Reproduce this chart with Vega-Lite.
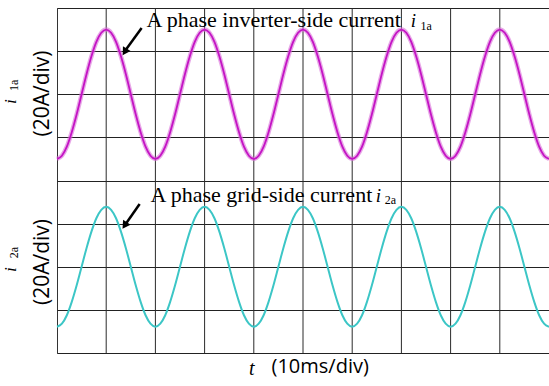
{
  "$schema": "https://vega.github.io/schema/vega-lite/v6.json",
  "width": 492,
  "height": 345,
  "autosize": {"type": "none"},
  "padding": {"left": 57, "top": 8, "right": 0, "bottom": 33},
  "background": "white",
  "config": {"view": {"stroke": "#333", "strokeWidth": 1}, "axis": {"gridColor": "#222", "gridOpacity": 1, "gridWidth": 1}},
  "datasets": {
    "w": [
      {"t":0,"a":-30,"b":-27.8},{"t":1,"a":-28.5,"b":-26.4},{"t":2,"a":-24.3,"b":-22.5},{"t":3,"a":-17.6,"b":-16.3},{"t":4,"a":-9.3,"b":-8.6},
      {"t":5,"a":0,"b":0},{"t":6,"a":9.3,"b":8.6},{"t":7,"a":17.6,"b":16.3},{"t":8,"a":24.3,"b":22.5},{"t":9,"a":28.5,"b":26.4},
      {"t":10,"a":30,"b":27.8},{"t":11,"a":28.5,"b":26.4},{"t":12,"a":24.3,"b":22.5},{"t":13,"a":17.6,"b":16.3},{"t":14,"a":9.3,"b":8.6},
      {"t":15,"a":0,"b":0},{"t":16,"a":-9.3,"b":-8.6},{"t":17,"a":-17.6,"b":-16.3},{"t":18,"a":-24.3,"b":-22.5},{"t":19,"a":-28.5,"b":-26.4},
      {"t":20,"a":-30,"b":-27.8},{"t":21,"a":-28.5,"b":-26.4},{"t":22,"a":-24.3,"b":-22.5},{"t":23,"a":-17.6,"b":-16.3},{"t":24,"a":-9.3,"b":-8.6},
      {"t":25,"a":0,"b":0},{"t":26,"a":9.3,"b":8.6},{"t":27,"a":17.6,"b":16.3},{"t":28,"a":24.3,"b":22.5},{"t":29,"a":28.5,"b":26.4},
      {"t":30,"a":30,"b":27.8},{"t":31,"a":28.5,"b":26.4},{"t":32,"a":24.3,"b":22.5},{"t":33,"a":17.6,"b":16.3},{"t":34,"a":9.3,"b":8.6},
      {"t":35,"a":0,"b":0},{"t":36,"a":-9.3,"b":-8.6},{"t":37,"a":-17.6,"b":-16.3},{"t":38,"a":-24.3,"b":-22.5},{"t":39,"a":-28.5,"b":-26.4},
      {"t":40,"a":-30,"b":-27.8},{"t":41,"a":-28.5,"b":-26.4},{"t":42,"a":-24.3,"b":-22.5},{"t":43,"a":-17.6,"b":-16.3},{"t":44,"a":-9.3,"b":-8.6},
      {"t":45,"a":0,"b":0},{"t":46,"a":9.3,"b":8.6},{"t":47,"a":17.6,"b":16.3},{"t":48,"a":24.3,"b":22.5},{"t":49,"a":28.5,"b":26.4},
      {"t":50,"a":30,"b":27.8},{"t":51,"a":28.5,"b":26.4},{"t":52,"a":24.3,"b":22.5},{"t":53,"a":17.6,"b":16.3},{"t":54,"a":9.3,"b":8.6},
      {"t":55,"a":0,"b":0},{"t":56,"a":-9.3,"b":-8.6},{"t":57,"a":-17.6,"b":-16.3},{"t":58,"a":-24.3,"b":-22.5},{"t":59,"a":-28.5,"b":-26.4},
      {"t":60,"a":-30,"b":-27.8},{"t":61,"a":-28.5,"b":-26.4},{"t":62,"a":-24.3,"b":-22.5},{"t":63,"a":-17.6,"b":-16.3},{"t":64,"a":-9.3,"b":-8.6},
      {"t":65,"a":0,"b":0},{"t":66,"a":9.3,"b":8.6},{"t":67,"a":17.6,"b":16.3},{"t":68,"a":24.3,"b":22.5},{"t":69,"a":28.5,"b":26.4},
      {"t":70,"a":30,"b":27.8},{"t":71,"a":28.5,"b":26.4},{"t":72,"a":24.3,"b":22.5},{"t":73,"a":17.6,"b":16.3},{"t":74,"a":9.3,"b":8.6},
      {"t":75,"a":0,"b":0},{"t":76,"a":-9.3,"b":-8.6},{"t":77,"a":-17.6,"b":-16.3},{"t":78,"a":-24.3,"b":-22.5},{"t":79,"a":-28.5,"b":-26.4},
      {"t":80,"a":-30,"b":-27.8},{"t":81,"a":-28.5,"b":-26.4},{"t":82,"a":-24.3,"b":-22.5},{"t":83,"a":-17.6,"b":-16.3},{"t":84,"a":-9.3,"b":-8.6},
      {"t":85,"a":0,"b":0},{"t":86,"a":9.3,"b":8.6},{"t":87,"a":17.6,"b":16.3},{"t":88,"a":24.3,"b":22.5},{"t":89,"a":28.5,"b":26.4},
      {"t":90,"a":30,"b":27.8},{"t":91,"a":28.5,"b":26.4},{"t":92,"a":24.3,"b":22.5},{"t":93,"a":17.6,"b":16.3},{"t":94,"a":9.3,"b":8.6},
      {"t":95,"a":0,"b":0},{"t":96,"a":-9.3,"b":-8.6},{"t":97,"a":-17.6,"b":-16.3},{"t":98,"a":-24.3,"b":-22.5},{"t":99,"a":-28.5,"b":-26.4},
      {"t":100,"a":-30,"b":-27.8}
    ]
  },
  "layer": [
    {
      "data": {"values": [{"g":10},{"g":20},{"g":30},{"g":40},{"g":50},{"g":60},{"g":70},{"g":80},{"g":90}]},
      "mark": {"type": "rule", "color": "#2a2a2a", "strokeWidth": 1},
      "encoding": {
        "x": {"field": "g", "type": "quantitative", "scale": {"domain": [0, 99.4]}, "axis": null}
      }
    },
    {
      "data": {"name": "w"},
      "mark": {"type": "line", "color": "#d870d8", "strokeWidth": 4.5, "opacity": 0.6, "interpolate": "monotone"},
      "encoding": {
        "x": {"field": "t", "type": "quantitative", "scale": {"domain": [0, 99.4]}, "axis": null},
        "y": {"field": "a", "type": "quantitative", "scale": {"domain": [-120, 40]},
              "axis": {"values": [-120,-100,-80,-60,-40,-20,0,20,40], "labels": false, "ticks": false, "domain": false, "grid": true, "gridColor": "#222", "gridOpacity": 1, "title": null}}
      }
    },
    {
      "data": {"name": "w"},
      "mark": {"type": "line", "color": "#c414c4", "strokeWidth": 1.8, "interpolate": "monotone"},
      "encoding": {
        "x": {"field": "t", "type": "quantitative", "axis": null},
        "y": {"field": "a", "type": "quantitative", "scale": {"domain": [-120, 40]}, "axis": null}
      }
    },
    {
      "data": {"name": "w"},
      "mark": {"type": "line", "color": "#3cc6c6", "strokeWidth": 2, "interpolate": "monotone"},
      "encoding": {
        "x": {"field": "t", "type": "quantitative", "axis": null},
        "y": {"field": "b", "type": "quantitative", "axis": null, "scale": {"domain": [-40, 120]}}
      }
    },
    {
      "data": {"values": [{"t": 18.2, "v": 31.2, "s": "A phase inverter-side current"}]},
      "mark": {"type": "text", "font": "Liberation Serif", "fontSize": 22, "align": "left", "baseline": "alphabetic", "color": "black"},
      "encoding": {
        "x": {"field": "t", "type": "quantitative", "axis": null},
        "y": {"field": "v", "type": "quantitative", "axis": null, "scale": {"domain": [-120, 40]}},
        "text": {"field": "s"}
      }
    },
    {
      "data": {"values": [{"t": 19.0, "v": 30.0, "s": "A phase grid-side current"}]},
      "mark": {"type": "text", "font": "Liberation Serif", "fontSize": 22, "align": "left", "baseline": "alphabetic", "color": "black"},
      "encoding": {
        "x": {"field": "t", "type": "quantitative", "axis": null},
        "y": {"field": "v", "type": "quantitative", "axis": null, "scale": {"domain": [-40, 120]}},
        "text": {"field": "s"}
      }
    },
    {
      "data": {"values": [{"t": 71.9, "v": 31.2, "s": "i"}]},
      "mark": {"type": "text", "font": "Liberation Serif", "fontSize": 19, "fontStyle": "italic", "align": "left", "baseline": "alphabetic", "color": "black"},
      "encoding": {
        "x": {"field": "t", "type": "quantitative", "axis": null},
        "y": {"field": "v", "type": "quantitative", "axis": null, "scale": {"domain": [-120, 40]}},
        "text": {"field": "s"}
      }
    },
    {
      "data": {"values": [{"t": 64.8, "v": 30.0, "s": "i"}]},
      "mark": {"type": "text", "font": "Liberation Serif", "fontSize": 19, "fontStyle": "italic", "align": "left", "baseline": "alphabetic", "color": "black"},
      "encoding": {
        "x": {"field": "t", "type": "quantitative", "axis": null},
        "y": {"field": "v", "type": "quantitative", "axis": null, "scale": {"domain": [-40, 120]}},
        "text": {"field": "s"}
      }
    },
    {
      "data": {"values": [{"t": 73.9, "v": 30.0, "s": "1a"}]},
      "mark": {"type": "text", "font": "Liberation Serif", "fontSize": 12, "align": "left", "baseline": "alphabetic", "color": "black"},
      "encoding": {
        "x": {"field": "t", "type": "quantitative", "axis": null},
        "y": {"field": "v", "type": "quantitative", "axis": null, "scale": {"domain": [-120, 40]}},
        "text": {"field": "s"}
      }
    },
    {
      "data": {"values": [{"t": 66.6, "v": 29.0, "s": "2a"}]},
      "mark": {"type": "text", "font": "Liberation Serif", "fontSize": 12, "align": "left", "baseline": "alphabetic", "color": "black"},
      "encoding": {
        "x": {"field": "t", "type": "quantitative", "axis": null},
        "y": {"field": "v", "type": "quantitative", "axis": null, "scale": {"domain": [-40, 120]}},
        "text": {"field": "s"}
      }
    },
    {
      "data": {"values": [{"t": 17.2, "v": 30.7, "t2": 14.1, "v2": 21.0}]},
      "mark": {"type": "rule", "color": "black", "strokeWidth": 2.5},
      "encoding": {
        "x": {"field": "t", "type": "quantitative", "axis": null},
        "y": {"field": "v", "type": "quantitative", "axis": null, "scale": {"domain": [-120, 40]}},
        "x2": {"field": "t2"},
        "y2": {"field": "v2"}
      }
    },
    {
      "data": {"values": [{"t": 16.8, "v": 29.1, "t2": 14.1, "v2": 20.3}]},
      "mark": {"type": "rule", "color": "black", "strokeWidth": 2.5},
      "encoding": {
        "x": {"field": "t", "type": "quantitative", "axis": null},
        "y": {"field": "v", "type": "quantitative", "axis": null, "scale": {"domain": [-40, 120]}},
        "x2": {"field": "t2"},
        "y2": {"field": "v2"}
      }
    },
    {
      "data": {"values": [{"t": 13.9, "v": 20.1}]},
      "mark": {"type": "point", "shape": "triangle", "filled": true, "color": "black", "opacity": 1, "size": 80, "angle": 212},
      "encoding": {
        "x": {"field": "t", "type": "quantitative", "axis": null},
        "y": {"field": "v", "type": "quantitative", "axis": null, "scale": {"domain": [-120, 40]}}
      }
    },
    {
      "data": {"values": [{"t": 13.9, "v": 19.6}]},
      "mark": {"type": "point", "shape": "triangle", "filled": true, "color": "black", "opacity": 1, "size": 80, "angle": 214},
      "encoding": {
        "x": {"field": "t", "type": "quantitative", "axis": null},
        "y": {"field": "v", "type": "quantitative", "axis": null, "scale": {"domain": [-40, 120]}}
      }
    },
    {
      "data": {"values": [{"t": -8.3, "v": -4.5, "s": "i"}]},
      "mark": {"type": "text", "font": "Liberation Serif", "fontSize": 17, "fontStyle": "italic", "align": "left", "baseline": "alphabetic", "angle": 270, "color": "black"},
      "encoding": {
        "x": {"field": "t", "type": "quantitative", "axis": null},
        "y": {"field": "v", "type": "quantitative", "axis": null, "scale": {"domain": [-120, 40]}},
        "text": {"field": "s"}
      }
    },
    {
      "data": {"values": [{"t": -8.0, "v": 1.5, "s": "1a"}]},
      "mark": {"type": "text", "font": "Liberation Serif", "fontSize": 12, "align": "left", "baseline": "alphabetic", "angle": 270, "color": "black"},
      "encoding": {
        "x": {"field": "t", "type": "quantitative", "axis": null},
        "y": {"field": "v", "type": "quantitative", "axis": null, "scale": {"domain": [-120, 40]}},
        "text": {"field": "s"}
      }
    },
    {
      "data": {"values": [{"t": -8.3, "v": -2.4, "s": "i"}]},
      "mark": {"type": "text", "font": "Liberation Serif", "fontSize": 17, "fontStyle": "italic", "align": "left", "baseline": "alphabetic", "angle": 270, "color": "black"},
      "encoding": {
        "x": {"field": "t", "type": "quantitative", "axis": null},
        "y": {"field": "v", "type": "quantitative", "axis": null, "scale": {"domain": [-40, 120]}},
        "text": {"field": "s"}
      }
    },
    {
      "data": {"values": [{"t": -8.0, "v": 4.0, "s": "2a"}]},
      "mark": {"type": "text", "font": "Liberation Serif", "fontSize": 12, "align": "left", "baseline": "alphabetic", "angle": 270, "color": "black"},
      "encoding": {
        "x": {"field": "t", "type": "quantitative", "axis": null},
        "y": {"field": "v", "type": "quantitative", "axis": null, "scale": {"domain": [-40, 120]}},
        "text": {"field": "s"}
      }
    },
    {
      "data": {"values": [{"t": -2.9, "v": 0.35, "s": "(20A/div)"}]},
      "mark": {"type": "text", "font": "Open Sans", "fontSize": 21, "align": "center", "baseline": "middle", "angle": 270, "color": "black"},
      "encoding": {
        "x": {"field": "t", "type": "quantitative", "axis": null},
        "y": {"field": "v", "type": "quantitative", "axis": null, "scale": {"domain": [-120, 40]}},
        "text": {"field": "s"}
      }
    },
    {
      "data": {"values": [{"t": -2.9, "v": 2.2, "s": "(20A/div)"}]},
      "mark": {"type": "text", "font": "Open Sans", "fontSize": 21, "align": "center", "baseline": "middle", "angle": 270, "color": "black"},
      "encoding": {
        "x": {"field": "t", "type": "quantitative", "axis": null},
        "y": {"field": "v", "type": "quantitative", "axis": null, "scale": {"domain": [-40, 120]}},
        "text": {"field": "s"}
      }
    },
    {
      "data": {"values": [{"t": 39.0, "v": -130.2, "s": "t"}]},
      "mark": {"type": "text", "font": "Liberation Serif", "fontSize": 20, "fontStyle": "italic", "align": "left", "baseline": "alphabetic", "color": "black"},
      "encoding": {
        "x": {"field": "t", "type": "quantitative", "axis": null},
        "y": {"field": "v", "type": "quantitative", "axis": null, "scale": {"domain": [-120, 40]}},
        "text": {"field": "s"}
      }
    },
    {
      "data": {"values": [{"t": 43.6, "v": -129.3, "s": "(10ms/div)"}]},
      "mark": {"type": "text", "font": "Open Sans", "fontSize": 20, "align": "left", "baseline": "alphabetic", "color": "black"},
      "encoding": {
        "x": {"field": "t", "type": "quantitative", "axis": null},
        "y": {"field": "v", "type": "quantitative", "axis": null, "scale": {"domain": [-120, 40]}},
        "text": {"field": "s"}
      }
    }
  ],
  "resolve": {"scale": {"y": "independent"}, "axis": {"y": "independent"}}
}
